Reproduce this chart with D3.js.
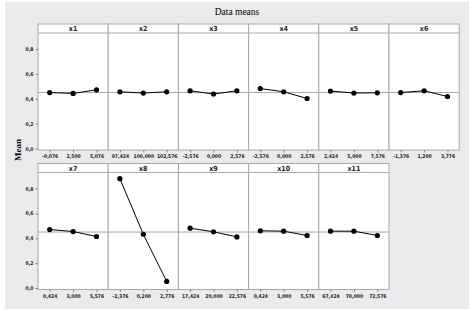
<!DOCTYPE html>
<html>
<head>
<meta charset="utf-8">
<script src="https://cdn.jsdelivr.net/npm/d3@7"></script>
<style>
  body { margin: 0; background: #fff; }
  svg { display: block; }
</style>
</head>
<body>
<div id="chart"></div>
<script>
// factor names and their three levels (tick labels)
const factors = ['x1', 'x2', 'x3', 'x4', 'x5', 'x6', 'x7', 'x8', 'x9', 'x10', 'x11'];
const levels = [
  ['-0,076', '2,500', '5,076'],
  ['97,424', '100,000', '102,576'],
  ['-2,576', '0,000', '2,576'],
  ['-2,576', '0,000', '2,576'],
  ['2,424', '5,000', '7,576'],
  ['-1,376', '1,200', '3,776'],
  ['0,424', '3,000', '5,576'],
  ['-2,376', '0,200', '2,776'],
  ['17,424', '20,000', '22,576'],
  ['0,424', '3,000', '5,576'],
  ['67,424', '70,000', '72,576']
];
// mean response at each level
const means = [
  [0.450, 0.443, 0.472],
  [0.456, 0.446, 0.456],
  [0.464, 0.438, 0.464],
  [0.482, 0.456, 0.402],
  [0.462, 0.446, 0.448],
  [0.450, 0.464, 0.418],
  [0.470, 0.454, 0.414],
  [0.879, 0.432, 0.053],
  [0.481, 0.452, 0.411],
  [0.460, 0.457, 0.422],
  [0.457, 0.457, 0.422]
];
const grandMean = 0.45;
const yTicks = [0, 0.2, 0.4, 0.6, 0.8];

const width = 473;
const height = 311;

const svg = d3.select('#chart').append('svg')
  .attr('width', width)
  .attr('height', height);

// gray plot background
svg.append('rect')
  .attr('x', 5).attr('y', 2)
  .attr('width', 464).attr('height', 307)
  .attr('fill', '#ebebed');

svg.append('text')
  .attr('x', 237).attr('y', 15)
  .attr('text-anchor', 'middle')
  .style('font-family', 'Liberation Serif, serif')
  .style('font-size', '9.5px')
  .text('Data means');

svg.append('text')
  .attr('transform', 'translate(21,150) rotate(-90)')
  .attr('text-anchor', 'middle')
  .style('font-family', 'Liberation Serif, serif')
  .style('font-size', '9px')
  .style('font-weight', 'bold')
  .text('Mean');

const panelW = 70.2;
const left = 38;
const rows = [
  { stripTop: 24, top: 33, bottom: 150 },
  { stripTop: 163.5, top: 172.5, bottom: 289.5 }
];
const tickFont = g => g.selectAll('text')
  .style('font-family', 'DejaVu Sans Condensed, sans-serif')
  .style('font-size', '5px')
  .style('font-weight', 'bold')
  .attr('fill', '#222');

factors.forEach((name, i) => {
  const row = rows[Math.floor(i / 6)];
  const col = i % 6;
  const x0 = left + col * panelW;

  const x = d3.scalePoint()
    .domain(levels[i])
    .range([x0, x0 + panelW])
    .padding(0.5);

  const y = d3.scaleLinear()
    .domain([0, 0.8])
    .range([row.bottom - 1.5, row.bottom - 1.5 - 99.5]);

  const g = svg.append('g');

  // panel + strip
  g.append('rect')
    .attr('x', x0).attr('y', row.stripTop)
    .attr('width', panelW).attr('height', row.bottom - row.stripTop)
    .attr('fill', '#fff')
    .attr('stroke', '#a8a8a8')
    .attr('stroke-width', 1);
  g.append('line')
    .attr('x1', x0).attr('x2', x0 + panelW)
    .attr('y1', row.top).attr('y2', row.top)
    .attr('stroke', '#a8a8a8');
  g.append('text')
    .attr('x', x0 + panelW / 2).attr('y', row.top - 2)
    .attr('text-anchor', 'middle')
    .style('font-family', 'DejaVu Sans Condensed, sans-serif')
    .style('font-size', '7px')
    .style('font-weight', 'bold')
    .attr('fill', '#222')
    .text(name);

  // reference line at grand mean
  g.append('line')
    .attr('x1', x0).attr('x2', x0 + panelW)
    .attr('y1', y(grandMean)).attr('y2', y(grandMean))
    .attr('stroke', '#a8a8a8');

  // x axis
  const xAxis = g.append('g')
    .attr('transform', `translate(0,${row.bottom})`)
    .call(d3.axisBottom(x).tickSize(2.5).tickPadding(2));
  xAxis.select('.domain').remove();
  xAxis.selectAll('line').attr('stroke', '#888');
  xAxis.call(tickFont);

  // y axis on first column only
  if (col === 0) {
    const yAxis = g.append('g')
      .attr('transform', `translate(${x0},0)`)
      .call(d3.axisLeft(y).tickValues(yTicks).tickSize(2.5).tickPadding(2)
        .tickFormat(d => d3.format('.1f')(d).replace('.', ',')));
    yAxis.select('.domain').remove();
    yAxis.selectAll('line').attr('stroke', '#888');
    yAxis.call(tickFont);
  }

  const pts = levels[i].map((l, j) => ({ l, v: means[i][j] }));

  g.append('path')
    .datum(pts)
    .attr('fill', 'none')
    .attr('stroke', '#000')
    .attr('stroke-width', 1)
    .attr('d', d3.line().x(d => x(d.l)).y(d => y(d.v)));

  g.selectAll('circle')
    .data(pts)
    .join('circle')
    .attr('cx', d => x(d.l))
    .attr('cy', d => y(d.v))
    .attr('r', 2.6)
    .attr('fill', '#000');
});
</script>
</body>
</html>
